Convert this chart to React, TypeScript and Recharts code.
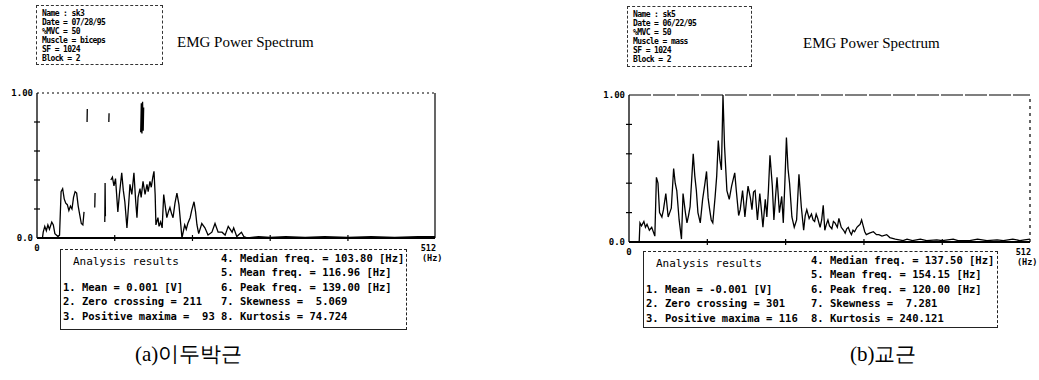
import { Line, LineChart, ReferenceLine, XAxis, YAxis } from "recharts"

// left panel (a) - biceps spectrum, gaps where the scan lost the trace
const leftFreq = [0, 7, 8, 10, 12, 14, 16, 19, 21, 23, 27, 29, 31, 33, 35, 37, 39, 41, 43, 45, 47, 49, 51, 53, 55, 57, 59, 60.5, 61, 74.3, 74.7, 75, 87.2, 87.6, 88, 88.5, 95, 97, 99, 101, 104, 106, 109, 111, 113, 115.7, 118, 119.6, 122, 124.7, 127, 128.6, 130, 132.5, 134, 136.4, 139, 141.5, 143, 145.3, 147, 149, 150.5, 152, 153, 155.6, 157, 159, 161, 163, 165, 167, 169, 171, 173, 175, 177.5, 180, 182.6, 186.5, 190, 192, 194, 197, 199, 202, 204, 205.8, 208, 212, 216, 220, 225, 229, 233, 238, 242, 246, 251, 253, 257, 263, 266, 271, 285, 300, 320, 345, 370, 400, 430, 460, 490, 512]
const leftPower = [0, 0, 0.04, 0.08, 0.05, 0.09, 0.06, 0.11, 0.09, 0.03, 0.01, 0.02, 0.32, 0.34, 0.27, 0.24, 0.23, 0.19, 0.22, 0.2, 0.28, 0.32, 0.31, 0.22, 0.16, 0.1, 0.09, 0.18, null, 0.21, 0.31, null, 0.11, 0.38, 0.15, null, 0.4, 0.42, 0.36, 0.41, 0.18, 0.3, 0.45, 0.33, 0.25, 0.07, 0.24, 0.37, 0.3, 0.45, 0.25, 0.14, 0.28, 0.34, 0.28, 0.39, 0.3, 0.37, 0.32, 0.39, 0.35, 0.42, 0.46, 0.3, 0.09, 0.14, 0.08, 0.11, 0.07, 0.3, 0.22, 0.14, 0.18, 0.21, 0.17, 0.14, 0.24, 0.31, 0.23, 0, 0.09, 0.06, 0.1, 0.14, 0.19, 0.25, 0.18, 0.09, 0.03, 0.1, 0.07, 0.02, 0.04, 0.1, 0.04, 0.04, 0.02, 0.08, 0.04, 0.07, 0.01, 0.04, 0.01, 0, 0.01, 0.005, 0.01, 0.005, 0.01, 0.005, 0.01, 0.005, 0.01, 0.01]
// isolated spike tops that survived the scan
const leftSpikeFreq = [64.4, 64.7, 65, 92.4, 92.7, 93, 133.4, 134.2, 135, 135.8, 136.6, 137.2]
const leftSpikePower = [0.8, 0.89, null, 0.8, 0.86, null, 0.73, 0.93, 0.72, 0.94, 0.74, 0.9]

// right panel (b) - masseter spectrum
const rightFreq = [0, 13, 14, 16, 19, 21, 23, 26, 29, 33, 35, 37, 39, 42, 44, 47, 50, 52, 54, 57, 59, 61, 64, 67, 69, 72, 74, 76, 78, 82, 84, 86, 88, 91, 94, 97, 99, 101, 103, 105, 107, 110, 112, 114, 116, 118, 120, 122, 125, 128, 131, 135, 137, 140, 142, 145, 148, 150, 152, 155, 157, 159, 161, 164, 167, 169, 171, 174, 176, 178, 180, 182, 183, 185, 187, 189, 192, 195, 197, 199, 201, 203, 205, 208, 211, 214, 217, 220, 223, 225, 227, 230, 233, 235, 237, 239, 241, 244, 246, 248, 250, 252, 254, 256, 259, 261, 263, 266, 268, 271, 274, 276, 278, 280, 282, 284, 286, 288, 291, 293, 295, 297, 299, 301, 303, 307, 312, 316, 319, 323, 329, 333, 340, 350, 355, 362, 372, 380, 393, 400, 414, 420, 435, 445, 457, 470, 478, 490, 499, 505, 512]
const rightPower = [0, 0, 0.13, 0.11, 0.14, 0.1, 0.12, 0.08, 0.1, 0.04, 0.44, 0.4, 0.2, 0.17, 0.22, 0.33, 0.17, 0.2, 0.23, 0.5, 0.4, 0.35, 0.15, 0.02, 0.33, 0.2, 0.13, 0.18, 0.24, 0.6, 0.45, 0.35, 0.2, 0.13, 0.29, 0.4, 0.48, 0.3, 0.22, 0.15, 0.13, 0.31, 0.45, 0.69, 0.56, 0.49, 1, 0.65, 0.35, 0.29, 0.38, 0.47, 0.35, 0.18, 0.22, 0.35, 0.17, 0.28, 0.38, 0.3, 0.22, 0.34, 0.35, 0.15, 0.33, 0.22, 0.1, 0.29, 0.17, 0.35, 0.59, 0.45, 0.38, 0.15, 0.3, 0.44, 0.2, 0.31, 0.13, 0.4, 0.71, 0.5, 0.4, 0.17, 0.1, 0.15, 0.46, 0.24, 0.08, 0.18, 0.22, 0.16, 0.19, 0.15, 0.14, 0.19, 0.16, 0.1, 0.15, 0.25, 0.08, 0.12, 0.15, 0.11, 0.09, 0.14, 0.13, 0.1, 0.16, 0.1, 0.08, 0.06, 0.09, 0.1, 0.07, 0.05, 0.08, 0.07, 0.1, 0.11, 0.12, 0.15, 0.11, 0.07, 0.05, 0.06, 0.07, 0.05, 0.05, 0.04, 0.05, 0.03, 0.02, 0.01, 0.02, 0.01, 0.02, 0.01, 0.015, 0.01, 0.02, 0.01, 0.01, 0.02, 0.01, 0.015, 0.01, 0.02, 0.01, 0.015, 0.02]

const xTicks = [0, 100, 200, 300, 400, 512]
const yTicks = [0, 0.2, 0.4, 0.6, 0.8, 1]

const leftInfo = ["Name : sk3", "Date = 07/28/95", "%MVC = 50", "Muscle = biceps", "SF = 1024", "Block = 2"]
const rightInfo = ["Name : sk5", "Date = 06/22/95", "%MVC = 50", "Muscle = mass", "SF = 1024", "Block = 2"]

const leftResultsA = ["1. Mean = 0.001 [V]", "2. Zero crossing = 211", "3. Positive maxima =  93"]
const leftResultsB = ["4. Median freq. = 103.80 [Hz]", "5. Mean freq. = 116.96 [Hz]", "6. Peak freq. = 139.00 [Hz]", "7. Skewness =  5.069", "8. Kurtosis = 74.724"]
const rightResultsA = ["1. Mean = -0.001 [V]", "2. Zero crossing = 301", "3. Positive maxima = 116"]
const rightResultsB = ["4. Median freq. = 137.50 [Hz]", "5. Mean freq. = 154.15 [Hz]", "6. Peak freq. = 120.00 [Hz]", "7. Skewness =  7.281", "8. Kurtosis = 240.121"]

const mono = '"DejaVu Sans Mono", "Liberation Mono", monospace'
const serif = '"Liberation Serif", "DejaVu Serif", serif'

const toRows = (f: number[], p: (number | null)[]) => f.map((v, i) => ({ f: v, p: p[i] }))

const XTick = (props: any) => {
  const { x, y, payload } = props
  const v = payload.value
  if (v === 0)
    return (
      <text x={x} y={y + 13} textAnchor="middle" fontFamily={mono} fontWeight="bold" fontSize={9}>
        0
      </text>
    )
  if (v === 512)
    return (
      <g fontFamily={mono} fontWeight="bold" fontSize={8.5}>
        <text x={x + 1} y={y + 13} textAnchor="end">512</text>
        <text x={x - 13} y={y + 23} textAnchor="start">(Hz)</text>
      </g>
    )
  return <line x1={x} x2={x} y1={y - 3} y2={y + 3} stroke="#000" strokeWidth={1.2} />
}

const YTick = (props: any) => {
  const { x, y, payload } = props
  const v = payload.value
  if (v === 0 || v === 1)
    return (
      <text x={x - 4} y={y + 3} textAnchor="end" fontFamily={mono} fontWeight="bold" fontSize={9}>
        {v === 0 ? "0.0" : "1.00"}
      </text>
    )
  return <line x1={x - 3} x2={x + 3} y1={y} y2={y} stroke="#000" strokeWidth={1.2} />
}

const Spectrum = ({ left, top, yw, plotW, plotH, rightM, series, dashTop, dashRight }: any) => (
  <div style={{ position: "absolute", left, top }}>
    <LineChart
      width={yw + plotW + rightM}
      height={10 + plotH + 30}
      margin={{ top: 10, right: rightM, bottom: 0, left: 0 }}
      style={{ overflow: "visible" }}
    >
      <XAxis
        type="number"
        dataKey="f"
        domain={[0, 512]}
        ticks={xTicks}
        interval={0}
        height={30}
        tickSize={0}
        tickMargin={0}
        tickLine={false}
        tick={XTick}
        axisLine={{ stroke: "#000", strokeWidth: 2 }}
        allowDataOverflow
      />
      <YAxis
        type="number"
        domain={[0, 1]}
        ticks={yTicks}
        interval={0}
        width={yw}
        tickSize={0}
        tickMargin={0}
        tickLine={false}
        tick={YTick}
        axisLine={{ stroke: "#000", strokeWidth: 1.3 }}
        allowDataOverflow
      />
      <ReferenceLine y={1} stroke="#000" strokeWidth={1.2} strokeDasharray={dashTop} />
      <ReferenceLine x={512} stroke="#000" strokeWidth={1.2} strokeDasharray={dashRight} />
      {series.map((s: any, i: number) => (
        <Line
          key={i}
          data={s.data}
          dataKey="p"
          type="linear"
          stroke="#000"
          strokeWidth={s.w}
          dot={false}
          connectNulls={false}
          isAnimationActive={false}
        />
      ))}
    </LineChart>
  </div>
)

const InfoBox = ({ left, top, width, height, lines }: any) => (
  <div
    style={{
      position: "absolute",
      left,
      top,
      width,
      height,
      border: "1px dashed #333",
      boxSizing: "border-box",
      padding: "3px 0 0 5px",
      fontFamily: mono,
      fontWeight: "bold",
      fontSize: 8,
      lineHeight: "9px",
      letterSpacing: -0.6,
      whiteSpace: "pre"
    }}
  >
    {lines.map((l: string) => (
      <div key={l}>{l}</div>
    ))}
  </div>
)

const Results = ({ left, top, width, height, colB, colsA, colsB }: any) => {
  const rowsB = [2, 16, 31, 45, 60]
  return (
    <div
      style={{
        position: "absolute",
        left,
        top,
        width,
        height,
        borderLeft: "1px solid #222",
        borderRight: "1px dashed #222",
        borderTop: "1px dashed #222",
        borderBottom: "1.5px solid #222",
        boxSizing: "border-box",
        fontFamily: mono,
        fontSize: 10.5,
        lineHeight: "12px",
        whiteSpace: "pre"
      }}
    >
      <div style={{ position: "absolute", left: 12, top: 6, fontWeight: "normal", fontSize: 11 }}>Analysis results</div>
      {colsA.map((l: string, i: number) => (
        <div key={l} style={{ position: "absolute", left: 2, top: rowsB[i + 2], fontWeight: "bold" }}>
          {l}
        </div>
      ))}
      {colsB.map((l: string, i: number) => (
        <div key={l} style={{ position: "absolute", left: colB, top: rowsB[i], fontWeight: "bold" }}>
          {l}
        </div>
      ))}
    </div>
  )
}

const Label = ({ left, top, size, text }: any) => (
  <div style={{ position: "absolute", left, top, fontFamily: serif, fontSize: size, whiteSpace: "pre", lineHeight: 1 }}>
    {text}
  </div>
)

export default function App() {
  const leftData = toRows(leftFreq, leftPower)
  const leftSpike = toRows(leftSpikeFreq, leftSpikePower)
  const rightData = toRows(rightFreq, rightPower)
  return (
    <div style={{ position: "absolute", left: 0, top: 0, width: 1039, height: 380, background: "#fff", overflow: "hidden" }}>
      <InfoBox left={36} top={5} width={127} height={60} lines={leftInfo} />
      <InfoBox left={627} top={6} width={125} height={61} lines={rightInfo} />
      <Label left={177} top={35} size={15} text="EMG Power Spectrum" />
      <Label left={803} top={36} size={15} text="EMG Power Spectrum" />

      <Spectrum
        left={0}
        top={83}
        yw={37}
        plotW={398}
        plotH={145}
        rightM={45}
        dashTop="2 3"
        dashRight="0"
        series={[
          { data: leftData, w: 1.3 },
          { data: leftSpike, w: 1.3 }
        ]}
      />
      <Spectrum
        left={589}
        top={85}
        yw={40}
        plotW={401}
        plotH={147}
        rightM={9}
        dashTop="22 2"
        dashRight="3 4"
        series={[{ data: rightData, w: 1.3 }]}
      />

      <Results left={60} top={249} width={347} height={81} colB={160} colsA={leftResultsA} colsB={leftResultsB} />
      <Results left={643} top={251} width={355} height={77} colB={167} colsA={rightResultsA} colsB={rightResultsB} />

      <Label left={135} top={344} size={21} text="(a)이두박근" />
      <Label left={850} top={344} size={21} text="(b)교근" />
    </div>
  )
}
